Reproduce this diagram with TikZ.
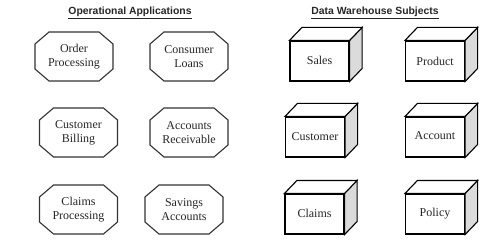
\documentclass[tikz,border=0pt]{standalone}
\usepackage{fontspec}
\setmainfont{Liberation Serif}
\newfontfamily\headfont{Liberation Sans}
\usetikzlibrary{calc}
\tikzset{
  heading/.style={font=\headfont\bfseries\fontsize{10.4}{12}\selectfont, text=black!85, inner sep=0pt},
  apptext/.style={font=\fontsize{12}{14}\selectfont, align=center, inner sep=0pt, text=black!85},
  cubeface/.style={draw=black, line width=1.1pt, fill=white, minimum width=59pt, minimum height=40pt, inner sep=0pt, font=\fontsize{12}{14}\selectfont, text=black!85},
  octline/.style={draw=black!80, line width=1.1pt},
  cubeline/.style={draw=black, line width=1.1pt, line join=miter},
  sideface/.style={cubeline, fill=black!14},
}
\newcommand{\octa}[1]{%
  \draw[octline] ($(#1)+(-39,-12.5)$) -- ($(#1)+(-25,-24.5)$) -- ($(#1)+(25,-24.5)$) -- ($(#1)+(39,-12.5)$)
    -- ($(#1)+(39,12.5)$) -- ($(#1)+(25,24.5)$) -- ($(#1)+(-25,24.5)$) -- ($(#1)+(-39,12.5)$) -- cycle;}
\newcommand{\cubesides}[1]{%
  \draw[sideface] (#1.north east) -- ++(12.5,-13) -- ($(#1.south east)+(12.5,-13)$) -- (#1.south east) -- cycle;
  \draw[cubeline, fill=white] (#1.north west) -- ++(12.5,-13) -- ($(#1.north east)+(12.5,-13)$) -- (#1.north east) -- cycle;}
\begin{document}
\begin{tikzpicture}[x=1pt,y=-1pt]
\useasboundingbox (0,0) rectangle (490,243);
% headings
\node[heading] (h1) at (130,13) {\underline{Operational Applications}};
\node[heading] (h2) at (375,13) {\underline{Data Warehouse Subjects}};
% operational applications
\node[apptext] (op) at (74,56.5) {Order\\Processing};
\node[apptext] (cl) at (189,56.5) {Consumer\\Loans};
\node[apptext] (cb) at (78.5,132.5) {Customer\\Billing};
\node[apptext] (ar) at (189,132.5) {Accounts\\Receivable};
\node[apptext] (cp) at (78.5,209.5) {Claims\\Processing};
\node[apptext] (sa) at (184,209.5) {Savings\\Accounts};
\octa{op}\octa{cl}\octa{cb}\octa{ar}\octa{cp}\octa{sa}
% subjects
\node[cubeface] (sales) at (319.5,61) {\raisebox{1pt}{Sales}};
\node[cubeface] (prod) at (435,61) {Product};
\node[cubeface] (cust) at (315,137) {\raisebox{-1pt}{Customer}};
\node[cubeface] (acct) at (435,137) {\raisebox{2pt}{Account}};
\node[cubeface] (claims) at (314.5,214) {\raisebox{1pt}{Claims}};
\node[cubeface] (pol) at (435,214) {\raisebox{-3pt}{Policy}};
\cubesides{sales}\cubesides{prod}\cubesides{cust}\cubesides{acct}\cubesides{claims}\cubesides{pol}
\end{tikzpicture}
\end{document}
